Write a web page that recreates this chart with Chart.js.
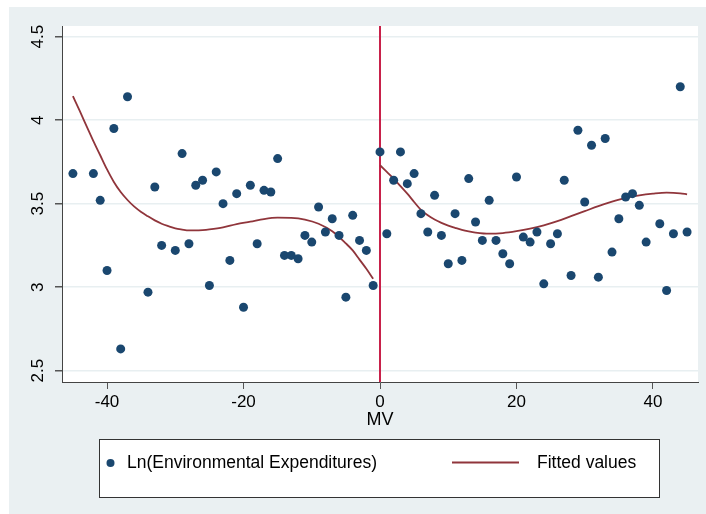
<!DOCTYPE html>
<html>
<head>
<meta charset="utf-8">
<script src="https://cdn.jsdelivr.net/npm/chart.js@4.4.1/dist/chart.umd.min.js"></script>
<style>
    body { margin: 0; background: #ffffff; }
    #chart { display: block; }
</style>
</head>
<body>
<canvas id="chart" width="706" height="514"></canvas>
<script>
// Observations: MV and Ln(Environmental Expenditures)
const obsX = [-45, -42, -41, -40, -39, -38, -37, -34, -33, -32, -30, -29, -28, -27, -26, -25, -24, -23, -22, -21,
    -20, -19, -18, -17, -16, -15, -14, -13, -12, -11, -10, -9, -8, -7, -6, -5, -4, -3, -2, -1,
    0, 1, 2, 3, 4, 5, 6, 7, 8, 9, 10, 11, 12, 13, 14, 15, 16, 17, 18, 19, 20, 21, 22, 23, 24, 25,
    26, 27, 28, 29, 30, 31, 32, 33, 34, 35, 36, 37, 38, 39, 41, 42, 43, 44, 45];
const obsY = [3.68, 3.68, 3.52, 3.10, 3.95, 2.63, 4.14, 2.97, 3.60, 3.25, 3.22, 3.80, 3.26, 3.61, 3.64, 3.01, 3.69, 3.50, 3.16, 3.56,
    2.88, 3.61, 3.26, 3.58, 3.57, 3.77, 3.19, 3.19, 3.17, 3.31, 3.27, 3.48, 3.33, 3.41, 3.31, 2.94, 3.43, 3.28, 3.22, 3.01,
    3.81, 3.32, 3.64, 3.81, 3.62, 3.68, 3.44, 3.33, 3.55, 3.31, 3.14, 3.44, 3.16, 3.65, 3.39, 3.28, 3.52, 3.28, 3.20, 3.14, 3.66, 3.30, 3.27, 3.33, 3.02, 3.26,
    3.32, 3.64, 3.07, 3.94, 3.51, 3.85, 3.06, 3.89, 3.21, 3.41, 3.54, 3.56, 3.49, 3.27, 3.38, 2.98, 3.32, 4.20, 3.33];

// Fitted values, left of the cutoff
const fitLeftX = [-45, -44, -43, -42, -41, -40, -39, -38, -37, -36, -35, -34, -33, -32, -31, -30, -29, -28, -27, -26, -25,
    -23, -21, -19, -17, -15, -13, -11, -9, -7, -5, -4, -3, -2, -1];
const fitLeftY = [4.144, 4.055, 3.965, 3.875, 3.79, 3.705, 3.63, 3.57, 3.522, 3.482, 3.45, 3.424, 3.40, 3.38, 3.365, 3.352, 3.345, 3.34, 3.34, 3.342, 3.346,
    3.358, 3.378, 3.392, 3.408, 3.416, 3.415, 3.405, 3.38, 3.335, 3.262, 3.22, 3.165, 3.11, 3.05];

// Fitted values, right of the cutoff
const fitRightX = [0, 1, 2, 3, 4, 5, 6, 7, 8, 9, 10, 11, 12, 13, 14, 16, 18, 20, 22, 24, 26, 28, 30, 32, 34, 36, 38, 40, 42, 44, 45];
const fitRightY = [3.73, 3.69, 3.65, 3.605, 3.56, 3.51, 3.463, 3.43, 3.405, 3.385, 3.368, 3.355, 3.343, 3.334, 3.327, 3.32, 3.324, 3.335, 3.35, 3.37, 3.395, 3.425, 3.455, 3.485, 3.512, 3.535, 3.55, 3.56, 3.566, 3.562, 3.556];

// Axes
const xTicks = [-40, -20, 0, 20, 40];
const yTicks = [2.5, 3, 3.5, 4, 4.5];
const xRange = [-46.6, 46.6];
const yRange = [2.432, 4.564];
const cutoff = 0;

const xTitle = 'MV';
const scatterLabel = 'Ln(Environmental Expenditures)';
const fitLabel = 'Fitted values';

const navy = '#1a476f';
const maroon = '#90353b';
const FONT = '"Liberation Sans", Arial, sans-serif';

function toPoints(xs, ys) {
    return xs.map((x, i) => ({ x: x, y: ys[i] }));
}

// Фон и легенда в стиле Stata
const stataPlugin = {
    id: 'stata',
    beforeDraw(chart) {
        const ctx = chart.ctx;
        const area = chart.chartArea;
        ctx.save();
        ctx.fillStyle = '#eaf0f2';
        ctx.fillRect(9, 7, chart.width - 9, chart.height - 7);
        ctx.fillStyle = '#ffffff';
        ctx.fillRect(area.left, area.top, area.right - area.left, area.bottom - area.top);
        ctx.restore();
    },
    afterDraw(chart) {
        const ctx = chart.ctx;
        const y = chart.scales.y;
        ctx.save();

        // rotated y tick labels
        ctx.fillStyle = '#000';
        ctx.font = '17px ' + FONT;
        ctx.textAlign = 'center';
        ctx.textBaseline = 'middle';
        yTicks.forEach(v => {
            ctx.save();
            ctx.translate(38, y.getPixelForValue(v));
            ctx.rotate(-Math.PI / 2);
            ctx.fillText(String(v), 0, 0);
            ctx.restore();
        });

        // x title
        ctx.font = '18px ' + FONT;
        ctx.fillText(xTitle, chart.scales.x.getPixelForValue(0), 420);

        // legend
        ctx.fillStyle = '#ffffff';
        ctx.fillRect(99.5, 439.5, 560, 58);
        ctx.strokeStyle = '#333';
        ctx.lineWidth = 1;
        ctx.strokeRect(99.5, 439.5, 560, 58);

        ctx.fillStyle = navy;
        ctx.beginPath();
        ctx.arc(110.5, 463, 4, 0, Math.PI * 2);
        ctx.fill();

        ctx.strokeStyle = maroon;
        ctx.lineWidth = 2;
        ctx.beginPath();
        ctx.moveTo(452, 462.5);
        ctx.lineTo(519, 462.5);
        ctx.stroke();

        ctx.fillStyle = '#000';
        ctx.font = '17.5px ' + FONT;
        ctx.textAlign = 'left';
        ctx.fillText(scatterLabel, 127, 463);
        ctx.fillText(fitLabel, 537, 463);
        ctx.restore();
    }
};

const ctx = document.getElementById('chart').getContext('2d');
window.mvChart = new Chart(ctx, {
    type: 'scatter',
    data: {
        datasets: [{
            label: scatterLabel,
            data: toPoints(obsX, obsY),
            backgroundColor: navy,
            borderColor: navy,
            pointRadius: 4.5,
            borderWidth: 0
        }, {
            label: fitLabel,
            data: toPoints(fitLeftX, fitLeftY),
            showLine: true,
            borderColor: maroon,
            borderWidth: 1.8,
            pointRadius: 0,
            cubicInterpolationMode: 'monotone'
        }, {
            label: fitLabel,
            data: toPoints(fitRightX, fitRightY),
            showLine: true,
            borderColor: maroon,
            borderWidth: 1.8,
            pointRadius: 0,
            cubicInterpolationMode: 'monotone'
        }, {
            label: 'cutoff',
            data: [{ x: cutoff, y: yRange[0] }, { x: cutoff, y: yRange[1] }],
            showLine: true,
            borderColor: '#c8214a',
            borderWidth: 2,
            pointRadius: 0
        }]
    },
    options: {
        responsive: false,
        animation: false,
        layout: { padding: { left: 0, right: 8, top: 26, bottom: 0 } },
        plugins: {
            legend: { display: false },
            tooltip: { enabled: false }
        },
        scales: {
            x: {
                type: 'linear',
                min: xRange[0],
                max: xRange[1],
                afterBuildTicks: (s) => { s.ticks = xTicks.map(v => ({ value: v })); },
                afterFit: (s) => { s.height = 132; },
                grid: {
                    drawOnChartArea: false,
                    drawTicks: true,
                    tickLength: 7,
                    tickColor: '#555'
                },
                border: { color: '#444', width: 1 },
                ticks: {
                    color: '#000',
                    font: { family: FONT, size: 17 },
                    padding: 3,
                    maxRotation: 0
                }
            },
            y: {
                type: 'linear',
                min: yRange[0],
                max: yRange[1],
                afterBuildTicks: (s) => { s.ticks = yTicks.map(v => ({ value: v })); },
                afterFit: (s) => { s.width = 62; },
                grid: {
                    color: '#e8eff1',
                    lineWidth: 1.5,
                    drawTicks: true,
                    tickLength: 7,
                    tickColor: '#555'
                },
                border: { color: '#444', width: 1 },
                ticks: { display: false }
            }
        }
    },
    plugins: [stataPlugin]
});
</script>
</body>
</html>
